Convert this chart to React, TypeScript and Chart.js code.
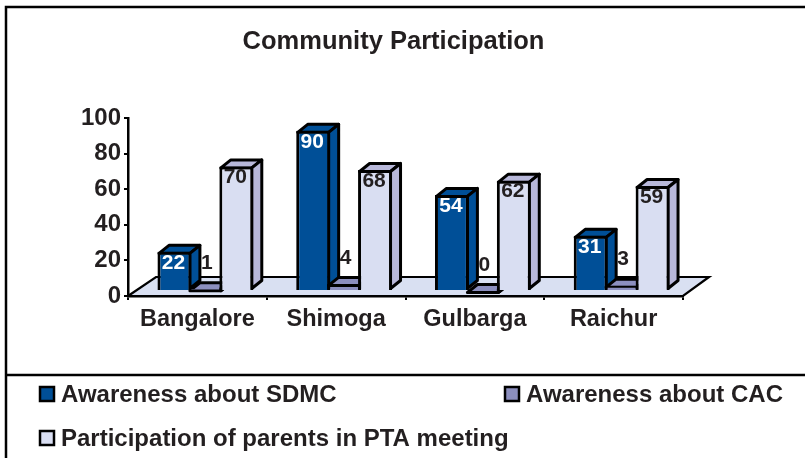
import React, { useEffect, useRef } from "react";
import { Chart, registerables } from "chart.js";

Chart.register(...registerables);

const TITLE = "Community Participation";
const categories = ["Bangalore", "Shimoga", "Gulbarga", "Raichur"];
const seriesNames = ["Awareness about SDMC", "Awareness about CAC", "Participation of parents in PTA meeting"];
const sdmc = [22, 90, 54, 31];
const cac = [1, 4, 0, 3];
const pta = [70, 68, 62, 59];
const yTicks = [0, 20, 40, 60, 80, 100];

const FONT = "'Liberation Sans', Arial, sans-serif";
const INK = "#231F20";
const faceColors = ["#004F97", "#8C8FBF", "#D9DEF2"];
const sideColors = ["#004F97", "#8C8FBF", "#B8B8DA"];
const labelColors = ["#FFFFFF", INK, INK];

const SHIFT_X = 8;
const SHIFT_Y = -5;
const DEPTH_X = 10;
const DEPTH_Y = 8;

const threeD = {
  id: "threeD",
  afterLayout(chart: any) {
    const t = chart.titleBlock;
    if (t) {
      t.left = 0;
      t.right = 787;
    }
  },
  beforeDatasetDraw() {
    // Bars are painted below, first series first, so that nearer faces overlap correctly.
    return false;
  },
  beforeDatasetsDraw(chart: any) {
    const { ctx, chartArea: a } = chart;
    ctx.save();
    ctx.beginPath();
    ctx.moveTo(a.left, a.bottom);
    ctx.lineTo(a.left + 28, a.bottom - 19);
    ctx.lineTo(a.right + 26, a.bottom - 19);
    ctx.lineTo(a.right, a.bottom);
    ctx.closePath();
    ctx.fillStyle = "#D9E0F2";
    ctx.fill();
    ctx.lineWidth = 2.2;
    ctx.strokeStyle = "#000";
    ctx.lineJoin = "miter";
    ctx.stroke();
    ctx.restore();

    chart.data.datasets.forEach((_ds: any, i: number) => {
      const meta = chart.getDatasetMeta(i);
      ctx.save();
      ctx.translate(SHIFT_X, SHIFT_Y);
      meta.data.forEach((bar: any) => {
        const { x, y, base, width } = bar.getProps(["x", "y", "base", "width"], true);
        const l = x - width / 2 + 1.5;
        const r = x + width / 2 - 1.5;
        const t = y + 1.5;
        const b = base - 1.5;
        ctx.fillStyle = sideColors[i];
        ctx.strokeStyle = "#000";
        ctx.lineWidth = 3;
        ctx.lineJoin = "round";
        ctx.beginPath();
        ctx.moveTo(l, t);
        ctx.lineTo(l + DEPTH_X, t - DEPTH_Y);
        ctx.lineTo(r + DEPTH_X, t - DEPTH_Y);
        ctx.lineTo(r, t);
        ctx.closePath();
        ctx.fill();
        ctx.stroke();
        ctx.beginPath();
        ctx.moveTo(r, t);
        ctx.lineTo(r + DEPTH_X, t - DEPTH_Y);
        ctx.lineTo(r + DEPTH_X, b - DEPTH_Y);
        ctx.lineTo(r, b);
        ctx.closePath();
        ctx.fill();
        ctx.stroke();
      });
      meta.controller.draw();
      ctx.restore();
    });
  },
  afterDatasetsDraw(chart: any) {
    const { ctx } = chart;
    ctx.save();
    ctx.font = `bold 21px ${FONT}`;
    ctx.textAlign = "center";
    ctx.textBaseline = "middle";
    chart.data.datasets.forEach((ds: any, i: number) => {
      chart.getDatasetMeta(i).data.forEach((bar: any, k: number) => {
        const { x, y } = bar.getProps(["x", "y"], true);
        const v = ds.data[k];
        const small = v < 10;
        ctx.fillStyle = small ? INK : labelColors[i];
        ctx.fillText(String(v), x + SHIFT_X + (small ? 1.5 : -1), y + SHIFT_Y + (small ? -26 : 11));
      });
    });
    ctx.restore();
  },
  afterDraw(chart: any) {
    const { ctx, width, height } = chart;
    ctx.save();
    // frame and legend separator
    ctx.strokeStyle = "#000";
    ctx.lineWidth = 2.5;
    ctx.strokeRect(6, 7, width + 10, height + 10);
    ctx.beginPath();
    ctx.moveTo(6, 375);
    ctx.lineTo(width, 375);
    ctx.stroke();
    // legend
    const spots = [
      [39, 386],
      [504, 386],
      [39, 430],
    ];
    ctx.font = `bold 24px ${FONT}`;
    ctx.textBaseline = "middle";
    ctx.textAlign = "left";
    chart.data.datasets.forEach((ds: any, i: number) => {
      const [x, y] = spots[i];
      ctx.fillStyle = faceColors[i];
      ctx.fillRect(x + 1, y + 1, 14, 14);
      ctx.lineWidth = 2.5;
      ctx.strokeStyle = "#000";
      ctx.strokeRect(x + 1, y + 1, 14, 14);
      ctx.fillStyle = INK;
      ctx.fillText(ds.label, x + 22, y + 9);
    });
    ctx.restore();
  },
};

export default function App() {
  const ref = useRef<HTMLCanvasElement>(null);
  useEffect(() => {
    const chart = new Chart(ref.current!, {
      type: "bar",
      data: {
        labels: categories,
        datasets: [sdmc, cac, pta].map((data, i) => ({
          label: seriesNames[i],
          data,
          backgroundColor: faceColors[i],
          borderColor: "#000",
          borderWidth: 3,
          categoryPercentage: 0.669,
          barPercentage: 1.097,
        })),
      },
      options: {
        responsive: false,
        animation: false,
        layout: { padding: { left: 0, right: 122, top: 0, bottom: 0 } },
        plugins: {
          legend: { display: false },
          tooltip: { enabled: false },
          title: {
            display: true,
            text: TITLE,
            color: INK,
            font: { family: FONT, size: 25.5, weight: "bold", lineHeight: 1.2 },
            padding: { top: 27, bottom: 60.4 },
          },
        },
        scales: {
          x: {
            offset: true,
            grid: { display: true, drawOnChartArea: false, drawTicks: true, tickLength: 4, color: "#000", lineWidth: 2, offset: true },
            border: { display: true, color: "#000", width: 2.5 },
            ticks: { color: INK, font: { family: FONT, size: 23.5, weight: "bold" }, padding: 5, maxRotation: 0 },
            afterFit(s: any) { s.height = 162; },
          },
          y: {
            min: 0,
            max: 100,
            grid: { display: true, drawOnChartArea: false, drawTicks: true, tickLength: 4, color: "#000", lineWidth: 2 },
            border: { display: true, color: "#000", width: 2.5 },
            ticks: {
              color: INK,
              font: { family: FONT, size: 24, weight: "bold" },
              padding: 3,
              stepSize: 20,
              callback: (v: any) => (yTicks.includes(Number(v)) ? String(v) : ""),
            },
            afterFit(s: any) { s.width = 128; },
          },
        },
      } as any,
      plugins: [threeD],
    });
    return () => chart.destroy();
  }, []);
  return (
    <div style={{ position: "fixed", left: 0, top: 0, width: 805, height: 458 }}>
      <canvas ref={ref} width={805} height={458} style={{ display: "block" }} />
    </div>
  );
}
